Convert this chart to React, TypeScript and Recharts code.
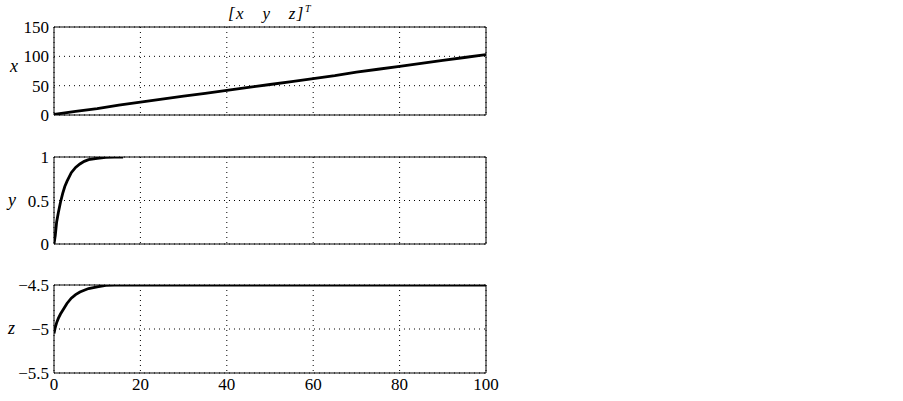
import React from 'react';
import { LineChart, Line, XAxis, YAxis, CartesianGrid, ReferenceArea } from 'recharts';

const xTime = [0, 5, 10, 15, 20, 25, 30, 35, 40, 45, 50, 55, 60, 65, 70, 75, 80, 85, 90, 95, 100];
const xValues = [1, 6, 11, 17, 22, 27, 32, 37, 42, 47, 52, 57, 62, 67, 73, 78, 83, 88, 93, 98, 103];

const yTime = [0, 0.3, 0.6, 1, 1.5, 2, 2.5, 3, 4, 5, 6, 7, 8, 10, 12, 14, 16];
const yValues = [0, 0.1, 0.25, 0.36, 0.48, 0.58, 0.66, 0.72, 0.82, 0.88, 0.92, 0.95, 0.97, 0.985, 0.995, 1.0, 1.0];

const zTime = [0, 0.3, 0.6, 1, 1.5, 2, 3, 4, 5, 6, 7, 8, 10, 12, 14, 100];
const zValues = [-5.05, -4.98, -4.93, -4.88, -4.83, -4.79, -4.71, -4.65, -4.61, -4.58, -4.56, -4.54, -4.52, -4.505, -4.5, -4.5];

const xTicks = [0, 20, 40, 60, 80, 100];
const xYTicks = [0, 50, 100, 150];
const yYTicks = [0, 0.5, 1];
const zYTicks = [-5.5, -5, -4.5];

const toRows = (t: number[], v: number[]) => t.map((tt, i) => ({ t: tt, v: v[i] }));

const FONT = '"Times New Roman", "Liberation Serif", "DejaVu Serif", serif';
const tickStyle = { fill: '#000', fontSize: 17, fontFamily: FONT, style: { fontFamily: FONT } };
const fmt = (n: number) => String(n).replace('-', '\u2212');
const blank = () => '';

type PanelProps = {
  data: { t: number; v: number }[];
  top: number;
  height: number;
  margin: { top: number; bottom: number; left: number; right: number };
  yDomain: [number, number];
  yTicks: number[];
  showX: boolean;
};

function Panel({ data, top, height, margin, yDomain, yTicks, showX }: PanelProps) {
  return (
    <div style={{ position: 'absolute', left: 0, top, fontFamily: FONT }}>
      <LineChart width={903} height={height} data={data} margin={margin} style={{ fontFamily: FONT }}>
        <CartesianGrid stroke="#000" strokeDasharray="1 4" strokeWidth={1} />
        <XAxis
          dataKey="t"
          type="number"
          domain={[0, 100]}
          ticks={xTicks}
          tick={tickStyle}
          tickFormatter={showX ? fmt : blank}
          tickLine={false}
          axisLine={false}
          tickSize={0}
          tickMargin={5}
          height={showX ? 28 : 0}
          interval={0}
          allowDataOverflow
        />
        <YAxis
          type="number"
          domain={yDomain}
          ticks={yTicks}
          tick={tickStyle}
          tickFormatter={fmt}
          tickLine={false}
          axisLine={false}
          tickSize={0}
          tickMargin={5}
          width={40}
          interval={0}
          allowDataOverflow
        />
        <ReferenceArea
          x1={0}
          x2={100}
          y1={yDomain[0]}
          y2={yDomain[1]}
          fill="none"
          fillOpacity={0}
          stroke="#000"
          strokeWidth={1}
          ifOverflow="visible"
        />
        <Line
          dataKey="v"
          type="linear"
          stroke="#000"
          strokeWidth={2.8}
          dot={false}
          isAnimationActive={false}
        />
      </LineChart>
    </div>
  );
}

const labelStyle: React.CSSProperties = {
  position: 'absolute',
  fontFamily: FONT,
  fontStyle: 'italic',
  fontSize: 18,
  color: '#000',
  lineHeight: 1,
};

export default function App() {
  return (
    <div style={{ position: 'absolute', left: 0, top: 0, width: 903, height: 401, background: '#fff' }}>
      <Panel
        data={toRows(xTime, xValues)}
        top={0}
        height={130}
        margin={{ top: 27, bottom: 15, left: 14, right: 417 }}
        yDomain={[0, 150]}
        yTicks={xYTicks}
        showX={false}
      />
      <Panel
        data={toRows(yTime, yValues)}
        top={140}
        height={120}
        margin={{ top: 17, bottom: 16, left: 14, right: 417 }}
        yDomain={[0, 1]}
        yTicks={yYTicks}
        showX={false}
      />
      <Panel
        data={toRows(zTime, zValues)}
        top={270}
        height={131}
        margin={{ top: 15, bottom: 0, left: 14, right: 417 }}
        yDomain={[-5.5, -4.5]}
        yTicks={zYTicks}
        showX={true}
      />
      <div style={{ ...labelStyle, left: 228, top: 4, fontSize: 17, letterSpacing: 1.5, whiteSpace: 'nowrap' }}>
        [x&nbsp;&nbsp;&nbsp;y&nbsp;&nbsp;&nbsp;z]<sup style={{ fontSize: 10 }}>T</sup>
      </div>
      <div style={{ ...labelStyle, left: 10, top: 57 }}>x</div>
      <div style={{ ...labelStyle, left: 8, top: 191 }}>y</div>
      <div style={{ ...labelStyle, left: 8, top: 319 }}>z</div>
    </div>
  );
}
